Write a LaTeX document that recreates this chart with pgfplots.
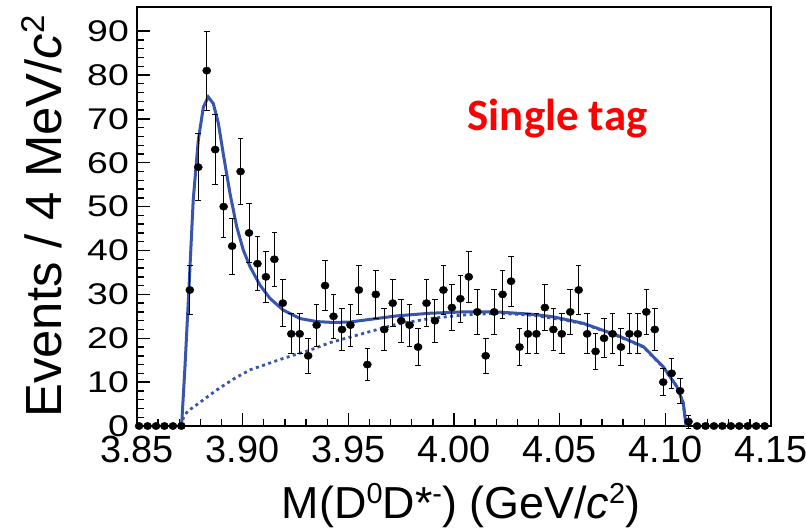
\documentclass[border=0pt]{standalone}
\usepackage{fontspec}
\setmainfont{Liberation Sans}
\newfontfamily\calibri{Carlito}
\usepackage{pgfplots}
\usepackage{pgfplotstable}
\pgfplotsset{compat=1.18}
\definecolor{fitblue}{RGB}{55,85,172}
\newcommand\xsup[1]{\raisebox{15bp}{\fontsize{29}{29}\selectfont #1}}
\newcommand\ysup[1]{\raisebox{17bp}{\fontsize{33}{33}\selectfont #1}}
\pgfplotstableread{
x y e
3.851 0 0
3.855 0 0
3.859 0 0
3.863 0 0
3.867 0 0
3.871 0 0
3.875 31 5.57
3.879 59 7.68
3.883 81 9.00
3.887 63 7.94
3.891 50 7.07
3.895 41 6.40
3.899 58 7.62
3.903 44 6.63
3.907 37 6.08
3.911 34 5.83
3.915 38 6.16
3.919 28 5.29
3.923 21 4.58
3.927 21 4.58
3.931 16 4.00
3.935 23 4.80
3.939 32 5.66
3.943 25 5.00
3.947 22 4.69
3.951 23 4.80
3.955 31 5.57
3.959 14 3.74
3.963 30 5.48
3.967 22 4.69
3.971 28 5.29
3.975 24 4.90
3.979 23 4.80
3.983 18 4.24
3.987 28 5.29
3.991 24 4.90
3.995 31 5.57
3.999 27 5.20
4.003 29 5.39
4.007 34 5.83
4.011 26 5.10
4.015 16 4.00
4.019 26 5.10
4.023 30 5.48
4.027 33 5.74
4.031 18 4.24
4.035 21 4.58
4.039 21 4.58
4.043 27 5.20
4.047 22 4.69
4.051 21 4.58
4.055 26 5.10
4.059 31 5.57
4.063 21 4.58
4.067 17 4.12
4.071 20 4.47
4.075 21 4.58
4.079 18 4.24
4.083 21 4.58
4.087 21 4.58
4.091 26 5.10
4.095 22 4.69
4.099 10 3.16
4.103 12 3.46
4.107 8 2.83
4.111 1 1.50
4.115 0 0
4.119 0 0
4.123 0 0
4.127 0 0
4.131 0 0
4.135 0 0
4.139 0 0
4.143 0 0
4.147 0 0
}\datatable
\pgfplotstableread{
x y
3.8711 0
3.8727 13.5
3.8747 32.5
3.8766 51.5
3.8790 65.1
3.8814 72.7
3.8837 75.0
3.8861 73.5
3.8885 69.0
3.8908 62.1
3.8940 53.0
3.8972 45.4
3.9003 40.1
3.9035 36.3
3.9082 32.1
3.9129 29.1
3.9192 26.4
3.9271 24.5
3.9350 23.8
3.9429 23.6
3.9508 23.7
3.9571 24.1
3.9729 25.1
3.9886 25.7
4.0044 26.0
4.0202 26.0
4.0360 25.5
4.0454 25.0
4.0517 24.4
4.0612 23.4
4.0770 20.7
4.0896 18.1
4.0990 13.5
4.1054 9.0
4.1085 5.2
4.1098 0
}\totaltable
\pgfplotstableread{
x y
3.8711 0
3.8720 2.0
3.8740 3.4
3.8770 4.4
3.8798 5.4
3.8877 8.2
3.8960 10.8
3.9035 12.8
3.9192 15.4
3.9319 17.3
3.9413 19.0
3.9571 21.1
3.9729 23.2
3.9886 24.5
4.0044 25.3
4.0202 25.7
4.0360 25.3
4.0517 24.2
4.0612 23.3
4.0770 20.6
4.0896 18.0
4.0990 13.4
4.1054 9.0
4.1085 5.2
4.1098 0
}\bkgtable
\begin{document}
\begin{tikzpicture}
\path[use as bounding box] (-137bp,-104bp) rectangle (669bp,426bp);
\begin{axis}[
  at={(0,0)}, anchor=south west,
  scale only axis, width=634bp, height=419bp,
  xmin=3.85, xmax=4.15, ymin=0, ymax=95.5,
  clip=false,
  axis line style={line width=2.4bp},
  tick pos=left,
  tick align=inside,
  xtick={3.85,3.90,3.95,4.00,4.05,4.10,4.15},
  ytick={0,10,20,30,40,50,60,70,80,90},
  minor x tick num=4,
  minor y tick num=4,
  major tick length=13bp,
  minor tick length=7bp,
  every tick/.style={black, line width=1.4bp},
  /pgf/number format/assume math mode=true,
  xticklabel={\pgfmathprintnumber[fixed,fixed zerofill,precision=2]{\tick}},
  xticklabel style={font=\fontsize{38}{40}\selectfont, anchor=base, inner sep=0pt, yshift=-36bp},
  yticklabel={\scalebox{1.25}[1]{\pgfmathprintnumber{\tick}}},
  yticklabel style={font=\fontsize{30}{32}\selectfont, anchor=east, inner sep=0pt, xshift=-8bp},
  xlabel={M(D\xsup{0}D*\xsup{-}) (GeV/\textit{c}\xsup{2})},
  xlabel style={font=\fontsize{45}{50}\selectfont, at={(axis description cs:0.511,-0.2196)}, anchor=base, inner sep=0pt},
  ylabel={Events / 4 MeV/\textit{c}\ysup{2}},
  ylabel style={font=\fontsize{51}{56}\selectfont, at={(axis description cs:-0.1183,0.5)}, anchor=base, inner sep=0pt},
]
\addplot[fitblue, line width=2.8bp, dash pattern=on 3bp off 3.5bp] table[x=x,y=y] {\bkgtable};
\addplot[fitblue, line width=3bp] table[x=x,y=y] {\totaltable};
\addplot[only marks, black, mark=*, mark size=3.7bp, mark options={xscale=1.1, fill=black},
  error bars/.cd, y dir=both, y explicit,
  error bar style={line width=1bp, black},
  error mark options={rotate=90, mark size=2.8bp, line width=1bp, black}]
  table[x=x, y=y, y error=e] {\datatable};
\node[anchor=base, text=red, font=\calibri\bfseries\fontsize{45}{54}\selectfont, inner sep=0pt] at (axis cs:4.049,67.4) {Single tag};
\end{axis}
\end{tikzpicture}
\end{document}
